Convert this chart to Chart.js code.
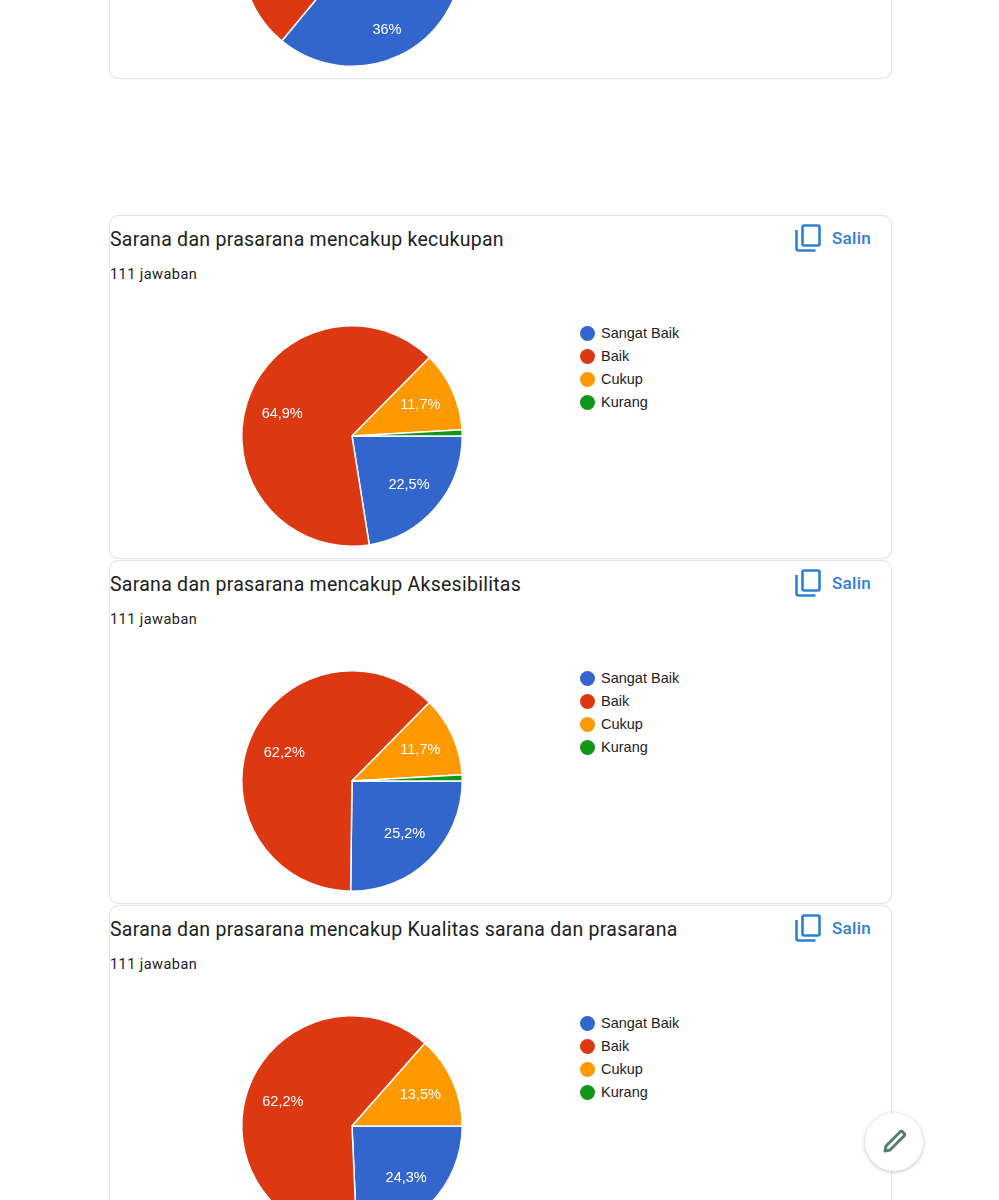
<!DOCTYPE html>
<html lang="id">
<head>
<meta charset="utf-8">
<title>Sarana dan prasarana</title>
<script src="https://cdn.jsdelivr.net/npm/chart.js@4"></script>
<style>
    html, body { margin: 0; padding: 0; background: #fff; }
    body { position: relative; width: 999px; height: 1200px; overflow: hidden; font-family: Roboto, sans-serif; }
    .card { position: absolute; left: 109px; width: 781px; height: 342px; border: 1px solid #e4e4e4; border-radius: 10px; box-shadow: 0 0 1px rgba(0,0,0,0.12); background: #fff; }
    .title { position: absolute; left: 0; top: 11px; font-size: 19.5px; line-height: 26px; letter-spacing: 0.27px; color: #202124; white-space: nowrap; }
    .count { position: absolute; left: 0; top: 49px; font-size: 14.5px; line-height: 20px; letter-spacing: 0.45px; color: #202124; white-space: nowrap; }
    .copy { position: absolute; left: 685px; top: 8px; width: 26px; height: 28px; }
    .salin { position: absolute; left: 722px; top: 10.5px; font-size: 17px; line-height: 22px; font-weight: 500; letter-spacing: 0.3px; color: #2f80cf; }
    .pie { position: absolute; left: 122px; top: 100px; width: 240px; height: 240px; }
    .legend { position: absolute; left: 470px; top: 105.5px; font-family: "Liberation Sans", Arial, sans-serif; font-size: 14.5px; color: #222; }
    .legend div { position: relative; height: 23.3px; line-height: 23px; padding-left: 21px; white-space: nowrap; }
    .legend i { position: absolute; left: 0; top: 4px; width: 15px; height: 15px; border-radius: 50%; }
    .fab { position: absolute; left: 865px; top: 1113px; width: 58px; height: 58px; border-radius: 50%; background: #fff; box-shadow: 0 1px 4px rgba(0,0,0,0.24); }
</style>
</head>
<body>
<script>
const categories = ["Sangat Baik", "Baik", "Cukup", "Kurang"];
const colors = ["#3366cc", "#dc3912", "#ff9900", "#109618"];

const titles = [
    "",
    "Sarana dan prasarana mencakup kecukupan",
    "Sarana dan prasarana mencakup Aksesibilitas",
    "Sarana dan prasarana mencakup Kualitas sarana dan prasarana",
];
const responses = "111 jawaban";

const values0 = [36, 52.3, 10.8, 0.9]; // hanya 36% yang terlihat
const values1 = [22.5, 64.9, 11.7, 0.9];
const values2 = [25.2, 62.2, 11.7, 0.9];
const values3 = [24.3, 62.2, 13.5, 0];
const allValues = [values0, values1, values2, values3];

const cardTops = [-265, 215, 560, 905];

// jarak label dari pusat, dibanding jari-jari
function labelRatio(value, index) {
    if (index === 0) return 0.745;
    return value > 50 ? 0.665 : 0.68;
}

// label persen di dalam irisan
function sliceLabels(index) {
    return {
        id: "sliceLabels",
        afterDatasetsDraw(chart) {
            const ctx = chart.ctx;
            const data = chart.data.datasets[0].data;
            ctx.save();
            ctx.fillStyle = "#fff";
            ctx.font = '14.5px "Liberation Sans", Arial, sans-serif';
            ctx.textAlign = "center";
            ctx.textBaseline = "middle";
            chart.getDatasetMeta(0).data.forEach((arc, i) => {
                if (data[i] < 5) return;
                const mid = (arc.startAngle + arc.endAngle) / 2;
                const r = arc.outerRadius * labelRatio(data[i], index);
                const text = String(data[i]).replace(".", ",") + "%";
                ctx.fillText(text, arc.x + Math.cos(mid) * r, arc.y + Math.sin(mid) * r);
            });
            ctx.restore();
        },
    };
}

function makeCard(index) {
    const card = document.createElement("div");
    card.className = "card";
    card.style.top = cardTops[index] + "px";
    // kartu pertama terpotong di atas, judulnya tidak kelihatan
    const header = index === 0 ? "" : `
        <div class="title">${titles[index]}</div>
        <div class="count">${responses}</div>
        <svg class="copy" viewBox="0 0 26 28" fill="none" stroke="#2f7fd0" stroke-width="2.6">
            <rect x="7.5" y="1.5" width="17" height="20" rx="1.5"></rect>
            <path d="M1.5 6v18.5a2 2 0 0 0 2 2h17"></path>
        </svg>
        <div class="salin">Salin</div>
        <div class="legend">
            ${categories.map((c, i) => `<div><i style="background:${colors[i]}"></i>${c}</div>`).join("")}
        </div>
    `;
    card.innerHTML = `${header}<canvas class="pie" width="240" height="240"></canvas>`;
    document.body.appendChild(card);

    new Chart(card.querySelector("canvas"), {
        type: "pie",
        data: {
            labels: categories,
            datasets: [{
                data: allValues[index],
                backgroundColor: colors,
                borderColor: "#fff",
                borderWidth: 1.5,
            }],
        },
        options: {
            responsive: false,
            animation: false,
            rotation: 90,
            layout: { padding: 9 },
            plugins: {
                legend: { display: false },
                tooltip: { enabled: false },
            },
        },
        plugins: [sliceLabels(index)],
    });
}

allValues.forEach((v, i) => makeCard(i));

const fab = document.createElement("div");
fab.className = "fab";
fab.innerHTML = `
    <svg width="58" height="58" viewBox="0 0 58 58" fill="none" stroke="#54806d" stroke-width="3" stroke-linejoin="round">
        <path d="M20 38l1-5L35 19a2 2 0 0 1 2.8 0l1.2 1.2a2 2 0 0 1 0 2.8L25 37z"></path>
    </svg>
`;
document.body.appendChild(fab);
</script>
</body>
</html>
